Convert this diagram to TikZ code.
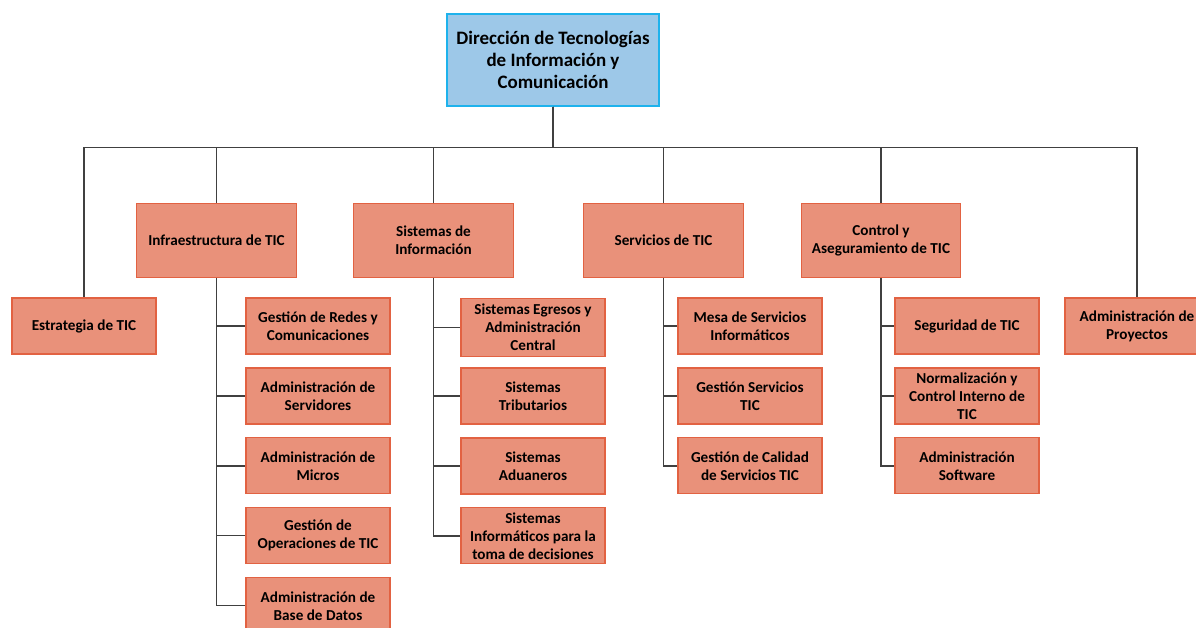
\documentclass[tikz,border=0pt]{standalone}
\usepackage{fontspec}
\setmainfont{Carlito}
\usetikzlibrary{positioning}

\definecolor{salmon}{RGB}{233,145,122}
\definecolor{salmonline}{RGB}{226,98,66}
\definecolor{skyfill}{RGB}{157,200,232}
\definecolor{skyline}{RGB}{30,178,236}
\definecolor{linkgray}{RGB}{64,64,64}

\begin{document}
\begin{tikzpicture}[
  x=0.025cm, y=-0.025cm,
  node distance=0.32cm,
  topbox/.style={rectangle, draw=skyline, fill=skyfill, line width=1pt, minimum width=5.3cm, minimum height=2.3cm, align=center, font=\fontsize{13.5}{15.5}\selectfont\bfseries},
  mainbox/.style={rectangle, draw=salmonline, fill=salmon, line width=0.8pt, minimum width=3.99cm, minimum height=1.87cm, align=center, font=\fontsize{10.8}{12.8}\selectfont\bfseries},
  subbox/.style={rectangle, draw=salmonline, fill=salmon, line width=0.8pt, minimum width=3.6cm, minimum height=1.4cm, inner ysep=0pt, align=center, font=\fontsize{10.8}{12.8}\selectfont\bfseries},
  link/.style={draw=linkgray, line width=0.9pt}
]
  \useasboundingbox (0,0) rectangle (1196,627);

  \node[topbox] (dir) at (553,60) {Dirección de Tecnologías\\de Información y\\Comunicación};

  % first level
  \node[subbox] (estr) at (84,326) {Estrategia de TIC};
  \node[mainbox] (infra) at (216.5,240.5) {Infraestructura de TIC};
  \node[mainbox] (sist) at (433.5,240.5) {Sistemas de\\Información};
  \node[mainbox] (serv) at (663.5,240.5) {Servicios de TIC};
  \node[mainbox] (ctrl) at (881,240.5) {Control y\\Aseguramiento de TIC};
  \node[subbox] (proy) at (1137,326) {Administración de\\Proyectos};

  % infraestructura
  \node[subbox] (i1) at (318,326) {Gestión de Redes y\\Comunicaciones};
  \node[subbox, below=of i1] (i2) {Administración de\\Servidores};
  \node[subbox, below=of i2] (i3) {Administración de\\Micros};
  \node[subbox, below=of i3] (i4) {Gestión de\\Operaciones de TIC};
  \node[subbox, below=of i4] (i5) {Administración de\\Base de Datos};

  % sistemas
  \node[subbox, minimum height=1.47cm] (s1) at (533,327.5) {Sistemas Egresos y\\Administración\\Central};
  \node[subbox] (s2) at (533,396) {Sistemas\\Tributarios};
  \node[subbox, below=of s2] (s3) {Sistemas\\Aduaneros};
  \node[subbox, below=of s3] (s4) {Sistemas\\Informáticos para la\\toma de decisiones};

  % servicios
  \node[subbox] (v1) at (750,326) {Mesa de Servicios\\Informáticos};
  \node[subbox, below=of v1] (v2) {Gestión Servicios\\TIC};
  \node[subbox, below=of v2] (v3) {Gestión de Calidad\\de Servicios TIC};

  % control
  \node[subbox] (c1) at (967,326) {Seguridad de TIC};
  \node[subbox, below=of c1] (c2) {Normalización y\\Control Interno de\\TIC};
  \node[subbox, below=of c2] (c3) {Administración\\Software};

  % links
  \foreach \n in {estr,infra,sist,serv,ctrl,proy}
    \draw[link] (dir.south) -- ++(0,41) -| (\n.north);
  \foreach \c in {i1,i2,i3,i4,i5}
    \draw[link] (infra.south) |- (\c.west);
  \foreach \c in {s1,s2,s3,s4}
    \draw[link] (sist.south) |- (\c.west);
  \foreach \c in {v1,v2,v3}
    \draw[link] (serv.south) |- (\c.west);
  \foreach \c in {c1,c2,c3}
    \draw[link] (ctrl.south) |- (\c.west);
\end{tikzpicture}
\end{document}
